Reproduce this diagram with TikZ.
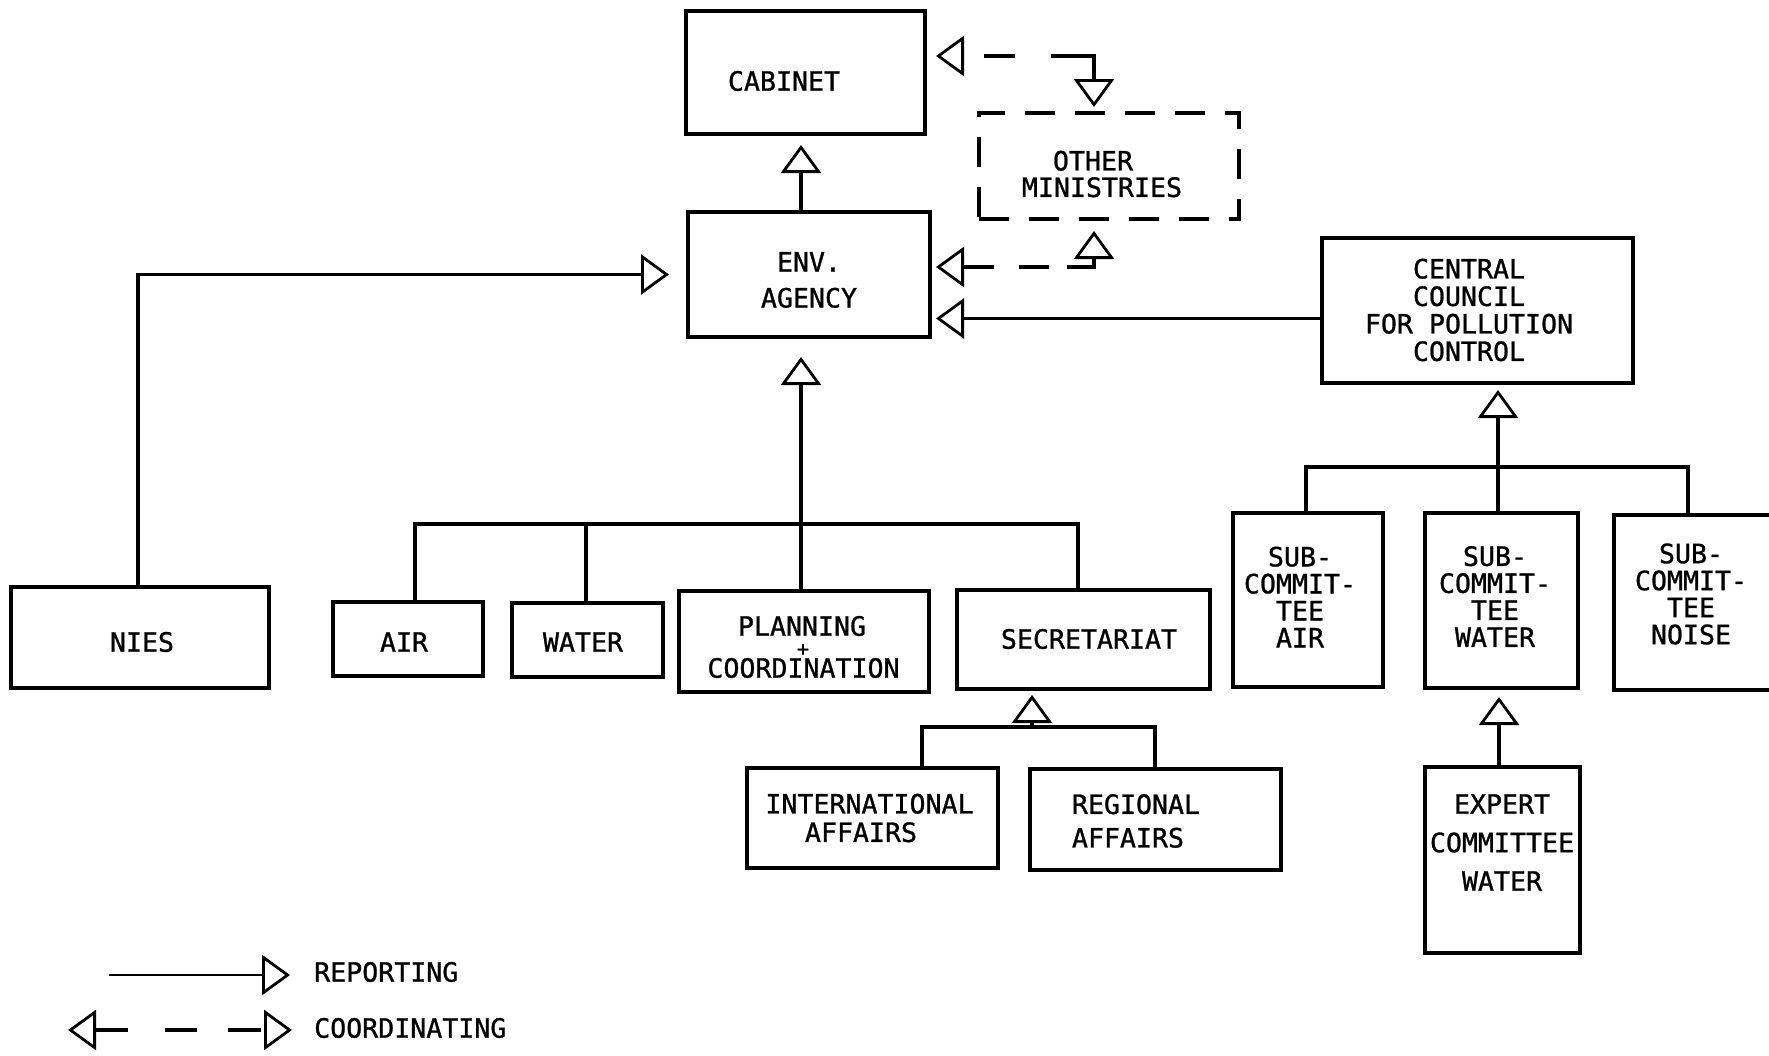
\documentclass[tikz,border=0pt]{standalone}
\usepackage{fontspec}
\newfontfamily\tw[FakeBold=1]{DejaVu Sans Mono}
\usetikzlibrary{arrows.meta,calc}
\begin{document}
\begin{tikzpicture}[x=1pt,y=-1pt,
  box/.style={draw, line width=4.5pt, inner sep=0pt, outer sep=0pt},
  dbox/.style={draw, line width=3.5pt, inner sep=0pt, outer sep=0pt, dash pattern=on 30pt off 20pt},
  txt/.style={font=\tw\fontsize{26.6}{27}\selectfont, inner sep=0pt, align=center},
  conn/.style={line width=3.5pt},
  rep/.style={conn, -{Triangle[open, length=28pt, width=40pt, line width=2.8pt]}},
  coord/.style={conn, {Triangle[open, length=28pt, width=40pt, line width=2.8pt]}-{Triangle[open, length=28pt, width=40pt, line width=2.8pt]}},
]
\useasboundingbox (0,0) rectangle (1769,1055);
\clip (0,0) rectangle (1769,1055);
\fill[white] (0,0) rectangle (1769,1055);

% boxes
\node[box, minimum width=239pt, minimum height=123pt] (cab) at (805.5,72.5) {};
\node[box, minimum width=242pt, minimum height=125pt] (env) at (809,274.5) {};
\node[dbox, minimum width=260pt, minimum height=106pt] (oth) at (1109,166) {};
\node[box, minimum width=311pt, minimum height=145pt] (ccpc) at (1477.5,310.5) {};
\node[box, minimum width=258pt, minimum height=101pt] (nies) at (140,637.5) {};
\node[box, minimum width=150pt, minimum height=74pt] (air) at (408,639) {};
\node[box, minimum width=151pt, minimum height=74pt] (wat) at (587.5,640) {};
\node[box, minimum width=250pt, minimum height=101pt] (plan) at (804,641.5) {};
\node[box, minimum width=253pt, minimum height=99pt] (sec) at (1083.5,639.5) {};
\node[box, minimum width=251pt, minimum height=100pt] (intl) at (872.5,818) {};
\node[box, minimum width=251pt, minimum height=101pt] (reg) at (1155.5,819.5) {};
\node[box, minimum width=150pt, minimum height=174pt] (sca) at (1308,600) {};
\node[box, minimum width=153pt, minimum height=175pt] (scw) at (1501.5,600.5) {};
\node[box, minimum width=161pt, minimum height=175pt] (scn) at (1694.5,602.5) {};
\node[box, minimum width=155pt, minimum height=186pt] (exp) at (1502.5,860) {};

% labels
\node[txt] (cabt) at (784,81) {CABINET};
\node[txt] (envt) at (809,280) {ENV.\\[9pt]AGENCY};
\node[txt] (otht) at (1102,174) {\hspace*{-18pt}OTHER\\[-0.5pt]MINISTRIES};
\node[txt] (ccpct) at (1469,310) {CENTRAL\\[0.5pt]COUNCIL\\[0.5pt]FOR POLLUTION\\[0.5pt]CONTROL};
\node[txt] (scat) at (1300,597) {SUB-\\COMMIT-\\TEE\\AIR};
\node[txt] (scwt) at (1495,596.5) {SUB-\\COMMIT-\\TEE\\WATER};
\node[txt] (scnt) at (1691,594) {SUB-\\COMMIT-\\TEE\\NOISE};
\node[txt] (niest) at (142,642) {NIES};
\node[txt] (airt) at (404,642) {AIR};
\node[txt] (watt) at (583,642) {WATER};
\node[txt] (plant1) at (802,626) {PLANNING};
\node[txt, font=\tw\fontsize{20}{20}\selectfont] (plus) at (803,650) {+};
\node[txt] (plant2) at (803.5,668) {COORDINATION};
\node[txt] (sect) at (1089,639) {SECRETARIAT};
\node[txt] (intlt) at (869.5,818) {INTERNATIONAL\\[1.5pt]\hspace*{-17pt}AFFAIRS};
\node[txt, align=left] (regt) at (1136,821) {REGIONAL\\[6.5pt]AFFAIRS};
\node[txt] (expt) at (1502,842.5) {EXPERT\\[11.5pt]COMMITTEE\\[11.5pt]WATER};

% reporting lines
\draw[rep] ($(env.north)+(-8,0)$) -- ($(cab.south)+(-4.5,11)$);
\draw[rep] ($(nies.north)+(-2,0)$) |- ($(env.west)+(-19,0)$);
\draw[conn] ($(air.north)+(7,0)$) -- ++(0,-78) -| ($(sec.north)+(-5.5,0)$);
\draw[conn] ($(wat.north)+(-1.5,0)$) -- ++(0,-79);
\draw[rep] ($(plan.north)+(-3,0)$) -- ($(env.south)+(-8,20)$);
\draw[rep] ($(ccpc.west)+(0,8)$) -- ($(env.east)+(6,44)$);
\draw[conn] ($(sca.north)+(-2,0)$) -- ++(0,-46) -| ($(scn.north)+(-6.5,0)$);
\draw[rep] ($(scw.north)+(-3.5,0)$) -- ($(ccpc.south)+(20.5,7)$);
\draw[rep] ($(exp.north)+(-3.5,0)$) -- ($(scw.south)+(-2.5,9)$);
\draw[conn] ($(intl.north)+(49.5,0)$) -- ++(0,-41) -| ($(reg.north)+(-0.5,0)$);
\draw[rep] ($(sec.south)+(-51.5,38)$) -- ($(sec.south)+(-51.5,6)$);

% coordinating lines
\draw[coord, dash pattern=on 0pt off 21pt on 31pt off 36pt on 65pt]
  ($(cab.east)+(11,-16.5)$) -| ($(oth.north)+(-15,-6)$);
\draw[coord, dash pattern=on 36pt off 18pt on 30pt off 25pt on 31pt]
  ($(oth.south)+(-15,12)$) |- ($(env.east)+(6,-7.5)$);

% legend
\coordinate (lr) at (109,975);
\node[txt, anchor=west] (lrt) at (314,972) {REPORTING};
\draw[rep, line width=2pt] (lr) -- ($(lrt.west)+(-24,3)$);
\coordinate (lc) at (68,1030);
\node[txt, anchor=west] (lct) at (314,1028) {COORDINATING};
\draw[coord, dash pattern=on 33pt off 37pt on 32pt off 31pt on 33pt] (lc) -- ($(lct.west)+(-22,2)$);
\end{tikzpicture}
\end{document}
